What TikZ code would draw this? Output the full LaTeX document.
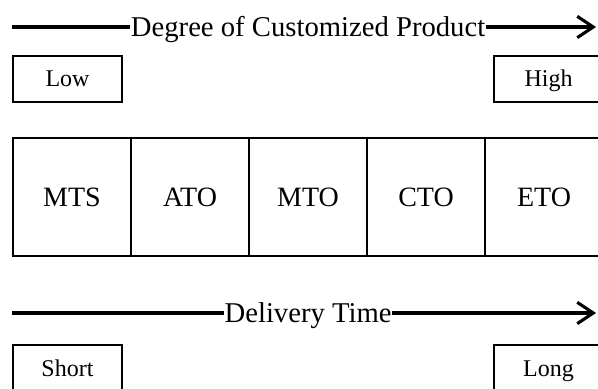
\documentclass[tikz,border=0pt]{standalone}
\usepackage{fontspec}
\setmainfont{Liberation Serif}
\usetikzlibrary{positioning,arrows.meta}

\begin{document}
\begin{tikzpicture}[x=0.75pt, y=-0.75pt, line width=1.1pt,
  cell/.style={draw, outer sep=0pt, inner sep=0pt, minimum width=88.5pt, minimum height=88.5pt, text height=14pt, text depth=0.5pt, font=\fontsize{21}{24}\selectfont},
  tag/.style={draw, outer sep=0pt, inner sep=0pt, minimum width=81.75pt, minimum height=34.5pt, text height=12.5pt, text depth=0.5pt, font=\fontsize{18}{21}\selectfont},
  axis/.style={line width=2.3pt, -{Straight Barb[length=12pt, width=16pt, line width=2.3pt]}},
  title/.style={fill=white, inner sep=0.6pt, text height=14.7pt, text depth=0.5pt, font=\fontsize{21.5}{24}\selectfont}]
\useasboundingbox (0,0) rectangle (598,388);

% Degree of customized product
\coordinate (d1) at (12,27);
\coordinate (d2) at (596,27);
\draw[axis] (d1) -- (d2) node[title, pos=0.507] (degree) {Degree of Customized Product};
\node[tag] (low) at (67.5,79) {Low};
\node[tag] (high) at (548.5,79) {High};

% production strategies
\node[cell] (mts) at (72,197) {MTS};
\node[cell, right=0pt of mts] (ato) {ATO};
\node[cell, right=0pt of ato] (mto) {MTO};
\node[cell, right=0pt of mto] (cto) {CTO};
\node[cell, right=0pt of cto] (eto) {ETO};

% delivery time
\coordinate (t1) at (12,313);
\coordinate (t2) at (596,313);
\draw[axis] (t1) -- (t2) node[title, pos=0.507] (delivery) {Delivery Time};
\node[tag] (short) at (67.5,368) {Short};
\node[tag] (long) at (548.5,368) {Long};
\end{tikzpicture}
\end{document}
